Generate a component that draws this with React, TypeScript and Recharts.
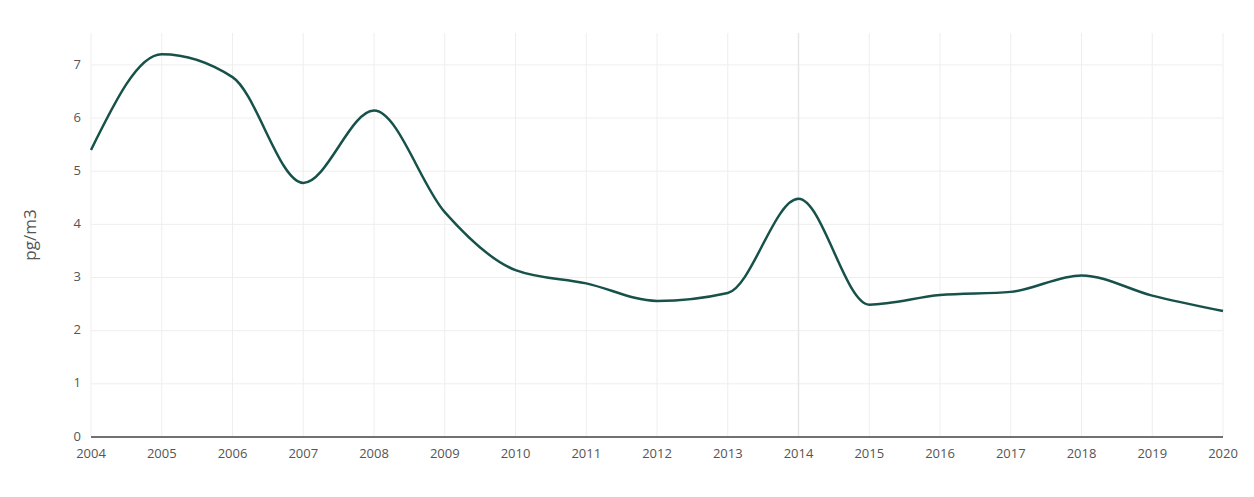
import { LineChart, Line, XAxis, YAxis, CartesianGrid, ReferenceLine } from 'recharts';

const years = [2004, 2005, 2006, 2007, 2008, 2009, 2010, 2011, 2012, 2013, 2014, 2015, 2016, 2017, 2018, 2019, 2020];
const values = [5.4, 7.2, 6.77, 4.78, 6.14, 4.23, 3.14, 2.89, 2.56, 2.71, 4.48, 2.49, 2.67, 2.73, 3.04, 2.66, 2.37];
const yTicks = [0, 1, 2, 3, 4, 5, 6, 7];

const data = years.map((year, i) => ({ year, v: values[i] }));

const tickStyle = { fill: '#555', fontSize: 13, fontFamily: '"Open Sans", sans-serif' };

export default function App() {
  return (
    <div style={{ width: 1246, height: 489 }}>
      <LineChart width={1246} height={489} data={data} margin={{ top: 25, right: 31, bottom: 30, left: 23 }}>
        <CartesianGrid stroke="#eeeeee" strokeWidth={1} verticalValues={years} horizontalValues={yTicks} />
        <ReferenceLine x={2014} stroke="#e6e6e6" strokeWidth={1.5} />
        <XAxis dataKey="year" type="number" domain={[2004, 2020]} ticks={years} interval={0}
          tick={tickStyle} tickLine={false} axisLine={{ stroke: '#444', strokeWidth: 1.5 }} tickMargin={6} height={30} />
        <YAxis domain={[0, 7.6]} ticks={yTicks} tick={{ ...tickStyle, dy: -1 }} tickLine={false} axisLine={false}
          tickMargin={4} width={60}
          label={{ value: 'pg/m3', angle: -90, position: 'insideLeft', offset: -1,
            style: { textAnchor: 'middle', fill: '#555', fontSize: 17, fontFamily: '"Open Sans", sans-serif' } }} />
        <Line type="monotone" dataKey="v" stroke="#17524a" strokeWidth={2.5} dot={false} isAnimationActive={false} />
      </LineChart>
    </div>
  );
}
